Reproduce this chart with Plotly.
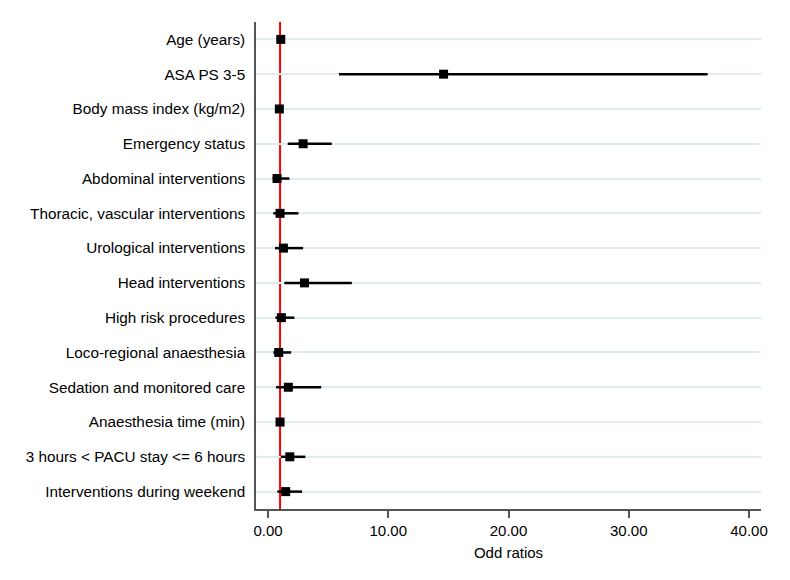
import plotly.graph_objects as go

categories = [
    "Age (years)",
    "ASA PS 3-5",
    "Body mass index (kg/m2)",
    "Emergency status",
    "Abdominal interventions",
    "Thoracic, vascular interventions",
    "Urological interventions",
    "Head interventions",
    "High risk procedures",
    "Loco-regional anaesthesia",
    "Sedation and monitored care",
    "Anaesthesia time (min)",
    "3 hours < PACU stay <= 6 hours",
    "Interventions during weekend",
]
odds_ratio = [1.06, 14.6, 0.94, 2.92, 0.75, 1.00, 1.28, 3.03, 1.11, 0.89, 1.69, 1.00, 1.81, 1.47]
ci_low = [1.03, 5.9, 0.91, 1.64, 0.39, 0.44, 0.58, 1.36, 0.61, 0.44, 0.67, 0.99, 1.06, 0.78]
ci_high = [1.09, 36.56, 0.97, 5.30, 1.78, 2.53, 2.92, 6.97, 2.19, 1.92, 4.42, 1.01, 3.11, 2.83]
x_ticks = [0, 10, 20, 30, 40]
x_tick_labels = ["0.00", "10.00", "20.00", "30.00", "40.00"]
reference_value = 1.0

err_plus = [h - o for h, o in zip(ci_high, odds_ratio)]
err_minus = [o - l for o, l in zip(odds_ratio, ci_low)]

fig = go.Figure()
fig.add_trace(go.Scatter(
    x=odds_ratio,
    y=categories,
    mode="markers",
    marker=dict(symbol="square", size=9, color="black"),
    error_x=dict(type="data", symmetric=False, array=err_plus, arrayminus=err_minus,
                 color="black", thickness=2.5, width=0),
    showlegend=False,
))

fig.add_shape(type="line", xref="x", yref="paper", x0=reference_value, x1=reference_value,
              y0=0, y1=1, line=dict(color="#ff0000", width=2), layer="between")

fig.update_layout(
    width=790, height=580,
    margin=dict(l=248, r=37, t=14, b=79),
    paper_bgcolor="white", plot_bgcolor="white",
    font=dict(family="Liberation Sans, Arial, sans-serif", size=15, color="black"),
    xaxis=dict(
        range=[-1, 41], tickvals=x_ticks, ticktext=x_tick_labels,
        showgrid=False, zeroline=False,
        showline=True, linecolor="#555555", linewidth=1.5,
        ticks="outside", ticklen=7, tickcolor="#555555", tickwidth=1.5,
        tickfont=dict(size=15),
        title=dict(text="Odd ratios", font=dict(size=15), standoff=10),
    ),
    yaxis=dict(
        type="category", categoryorder="array", categoryarray=categories,
        range=[13.5, -0.5],
        showgrid=True, gridcolor="#dfecef", gridwidth=1.5,
        zeroline=False, showline=True, linecolor="#555555", linewidth=1.5,
        ticks="", ticklabelstandoff=6,
        tickfont=dict(size=15.3),
    ),
)

fig.write_html("out.html")
